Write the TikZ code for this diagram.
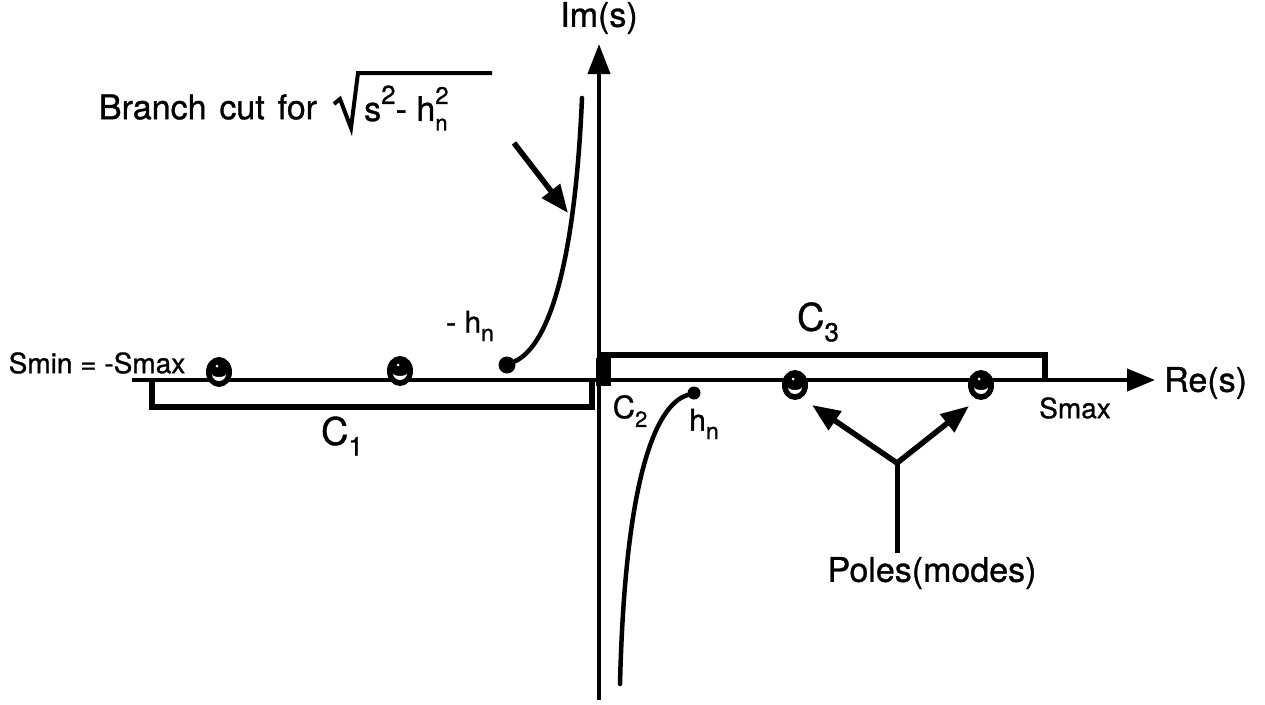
\documentclass[tikz,border=0pt]{standalone}
\usepackage{fontspec}
\setmainfont{TeX Gyre Heros}[FakeBold=0.9]
\usetikzlibrary{arrows.meta}
\newcommand{\mysb}[2][20]{\raisebox{-0.28em}{\fontsize{#1}{#1}\selectfont #2}}
\newcommand{\mysp}[2][20]{\raisebox{0.5em}{\fontsize{#1}{#1}\selectfont #2}}
\newcommand{\mysubsup}[2]{\rlap{\mysb[22]{#1}}\mysp[24]{#2}}
\tikzset{
  axisline/.style={line width=4pt},
  contour/.style={line width=6pt},
  cutline/.style={line width=4.5pt, line cap=round},
  lbl/.style={inner sep=0pt, font=\fontsize{34}{36}\selectfont},
  smalllbl/.style={inner sep=0pt, font=\fontsize{28}{30}\selectfont},
  clbl/.style={inner sep=0pt, font=\fontsize{38}{40}\selectfont},
  ptr/.style={line width=5.5pt, -{Triangle[length=28pt,width=22pt]}},
  polemark/.pic={
    \fill (0,0) ellipse [x radius=13, y radius=15];
    \fill[white] (-7,2) arc[start angle=180,end angle=0,radius=7]
       arc[start angle=0,end angle=180,x radius=7,y radius=3];
    \fill[white] (-2,-6) circle (1.5);
  },
}
\begin{document}
\begin{tikzpicture}[x=1pt,y=-1pt]
\useasboundingbox[fill=white] (0,0) rectangle (1265,704);

% axes
\coordinate (xstart) at (132,380);
\coordinate (xend) at (1155,380);
\coordinate (ystart) at (599,700);
\coordinate (yend) at (599,44);
\draw[axisline, -{Triangle[length=28pt,width=22pt]}] (xstart) -- (xend);
\draw[axisline, -{Triangle[length=30pt,width=22pt]}] (ystart) -- (yend);
\node[lbl] (im) at (599,18) {Im(s)};
\node[lbl, anchor=west] (re) at (1164,383) {Re(s)};

% contours
\draw[contour, line join=miter] (152,380) -- (152,407) -- (592,407) -- (592,380);
\draw[contour, line join=miter] (604,380) -- (604,355) -- (1045,355) -- (1045,380);
\fill (596,358) rectangle (611,386);

\node[clbl] (c1) at (342,436) {C\mysb[26]{1}};
\node[clbl] (c3) at (818,322) {C\mysb[26]{3}};
\node[inner sep=0pt, font=\fontsize{31}{32}\selectfont] (c2) at (630,411) {C\mysb[22]{2}};

% poles
\pic at (219,372) {polemark};
\pic at (400,371) {polemark};
\pic at (795,385) {polemark};
\pic at (981,385) {polemark};

% branch points and cuts
\node[circle, fill, inner sep=0pt, minimum size=17pt] (mhn) at (507,365) {};
\node[circle, fill, inner sep=0pt, minimum size=13pt] (phn) at (694,393) {};
\draw[cutline] (mhn) .. controls (550,345) and (575,260) .. (582,98);
\draw[cutline] (phn) .. controls (655,405) and (625,480) .. (620,684);

\node[inner sep=0pt, font=\fontsize{30}{32}\selectfont] (mhnl) at (470,326) {- h\mysb[23]{n}};
\node[inner sep=0pt, font=\fontsize{30}{32}\selectfont] (phnl) at (704,424) {h\mysb[23]{n}};

% branch cut label
\node[lbl] (bc) at (208,107) {Branch\hspace{0.38em}cut\hspace{0.38em}for};
\node[lbl, anchor=west] (rad) at (364,108) {s\mysp[26]{2}- h\mysubsup{n}{2}};
\draw[line width=4pt, line join=miter] (334,104) -- (340,99) -- (351,128) -- (358,73) -- (492,73);
\coordinate (bcs) at (514,143);
\coordinate (bce) at (568,213);
\draw[ptr] (bcs) -- (bce);

% smin / smax
\node[smalllbl] (smin) at (97,363) {Smin = -Smax};
\node[smalllbl] (smax) at (1075,408) {Smax};

% poles label
\node[lbl] (poles) at (932,573) {Poles(modes)};
\coordinate (junc) at (897,463);
\coordinate (p3tip) at (812,405);
\coordinate (p4tip) at (969,406);
\draw[line width=5pt] (poles.north -| junc) ++(0,-4) -- (junc);
\draw[ptr] (junc) -- (p3tip);
\draw[ptr] (junc) -- (p4tip);
\end{tikzpicture}
\end{document}
